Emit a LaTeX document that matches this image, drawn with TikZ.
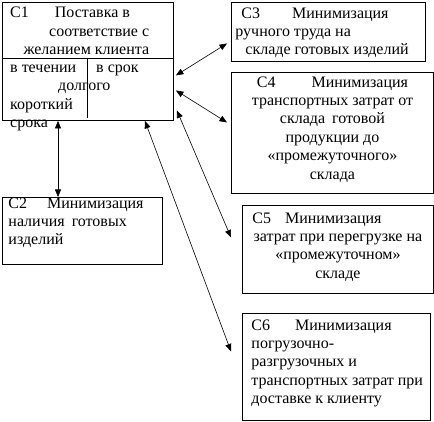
\documentclass[tikz,border=0pt]{standalone}
\usepackage{fontspec}
\setmainfont{Liberation Serif}
\usetikzlibrary{arrows.meta}

% text block of fixed size, set from its top
\newcommand{\cellbox}[3]{\parbox[c][#2][t]{#1}{#3}}

\begin{document}
\begin{tikzpicture}[
    x=1pt, y=-1pt,
    box/.style={rectangle, draw, line width=0.9pt, anchor=north west, inner xsep=4pt, inner ysep=0pt, font=\fontsize{16}{18.4}\selectfont},
    txt/.style={inner sep=0pt, anchor=base west, font=\fontsize{16}{18.4}\selectfont},
    arrow/.style={{Triangle[length=7.5pt,width=6pt]}-{Triangle[length=7.5pt,width=6pt]}, line width=0.6pt},
]
\useasboundingbox (0,0) rectangle (434,422);

% C1 with its split lower part
\node[box, inner sep=0pt, minimum width=171pt, minimum height=118pt] (c1) at (2,2) {};
\draw[line width=0.9pt] ([yshift=-56pt]c1.north west) -- ([yshift=-56pt]c1.north east);
\draw[line width=0.9pt] ([xshift=85pt,yshift=-56pt]c1.north west) -- ([xshift=85pt,yshift=3pt]c1.south west);
\node[txt, anchor=north west] (c1head) at (10,7) {\parbox[t]{139pt}{\raggedleft
\makebox[\linewidth][l]{С1\hspace{26pt}Поставка в}\\соответствие с\\желанием клиента}};
\node[txt] (c1a) at (10,72.5) {в течении};
\node[txt] (c1b) at (96,72.5) {в срок};
\node[txt] (c1c) at (58,91) {долгого};
\node[txt] (c1d) at (10,109.5) {короткий};
\node[txt] (c1e) at (10,128) {срока};

% C2
\node[box] (c2) at (2,197) {\cellbox{152pt}{67pt}{\raggedright\leftskip=2pt
С2\hspace{20pt}Минимизация\\наличия\hspace{7pt}готовых\\изделий}};

% right column
\node[box] (c3) at (231,2) {\cellbox{186pt}{59pt}{\raggedright\vspace*{5pt}
\hspace*{6pt}С3\hspace{32pt}Минимизация\\ручного труда на\\\hspace*{10pt}складе готовых изделий}};
\node[box] (c4) at (231,72) {\cellbox{194pt}{121pt}{\centering\vspace*{4pt}
С4\hspace{36pt}Минимизация\\транспортных затрат от\\склада\hspace{7pt}готовой\\продукции до\\«промежуточного»\\склада}};
\node[box] (c5) at (242,205) {\cellbox{183pt}{88pt}{\centering\vspace*{7pt}
\makebox[\linewidth][l]{\hspace*{6pt}С5\hspace{14pt}Минимизация}\\затрат при перегрузке на\\«промежуточном»\\складе}};
\node[box] (c6) at (242,313) {\cellbox{180pt}{107pt}{\raggedright\leftskip=5pt\vspace*{6pt}
С6\hspace{25pt}Минимизация\\погрузочно-\\разгрузочных и\\транспортных затрат при\\доставке к клиенту}};

% connectors
\draw[arrow] ([xshift=56pt]c1.south west) -- ([xshift=56pt]c2.north west);
\draw[arrow] ([xshift=2pt,yshift=-14pt]c1.east) -- ([xshift=-4pt,yshift=-11.5pt]c3.west);
\draw[arrow] ([xshift=2pt,yshift=-29pt]c1.east) -- ([xshift=-4pt,yshift=10.5pt]c4.west);
\draw[arrow] ([xshift=3pt,yshift=-49pt]c1.east) -- ([xshift=-11pt,yshift=12pt]c5.west);
\draw[arrow] ([xshift=57pt]c1.south) -- ([xshift=-11pt,yshift=15.5pt]c6.west);

\end{tikzpicture}
\end{document}
